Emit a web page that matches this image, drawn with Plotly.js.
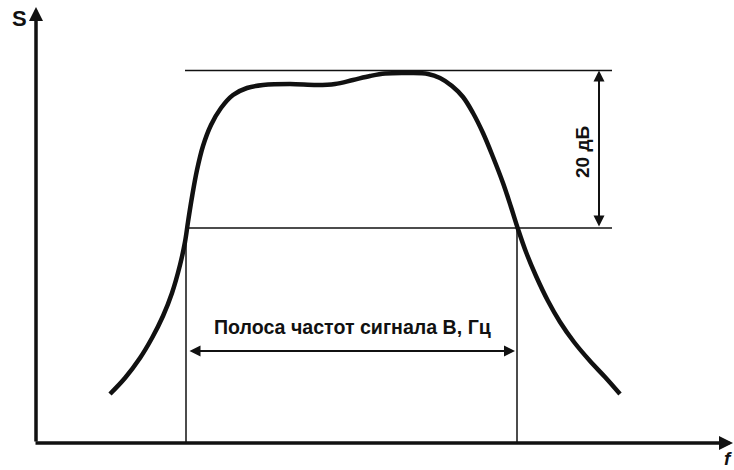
<!DOCTYPE html>
<html>
<head>
<meta charset="utf-8">
<script src="https://cdn.plot.ly/plotly-3.0.1.min.js"></script>
<style>html,body{margin:0;padding:0;background:#fff;}#chart{width:734px;height:470px;}</style>
</head>
<body>
<div id="chart"></div>
<script>
// Spectrum curve S(f), arbitrary units (f along horizontal axis, S vertical)
const curveF = [74,89,104,116,127,136,144,149,152,156,161,167,175,185,197,211,227,254,281,299,317,334,349,374,392,404,416,427,437,447,457,467,475,482,490,500,512,524,538,554,569,584];
const curveS = [49,65,85,105,127,150,178,201,221,246,273,297,318,335,348,355,358,359,358,359,363,367,369.5,370,369,365,357,346,330,310,286,260,236,214,191,167,142,121,101,82,66,49];

// Reference levels and band edges
const levelTop = 372.5;
const levelBand = 215;
const levelLineF = [149, 576];
const bandEdgesF = [150, 481];
const bandArrowS = 92;
const bandArrowF = [152, 479];
const dbArrowF = 563;

// Text labels
const bandLabel = 'Полоса частот сигнала B, Гц';
const dbLabel = '20 дБ';
const yAxisLabel = 'S';
const xAxisLabel = 'f';

// Axes extents
const axisYTop = 436;
const axisXEnd = 697;

const ink = '#111111';
const traces = [];

traces.push({x: curveF, y: curveS, mode: 'lines', line: {color: ink, width: 4.5, shape: 'spline', smoothing: 1}, hoverinfo: 'skip'});
// horizontal level lines
[levelTop, levelBand].forEach(s => {
  traces.push({x: levelLineF, y: [s, s], mode: 'lines', line: {color: ink, width: 1.5}, hoverinfo: 'skip'});
});
// vertical band edges
bandEdgesF.forEach(f => {
  traces.push({x: [f, f], y: [levelBand, 0], mode: 'lines', line: {color: ink, width: 1.5}, hoverinfo: 'skip'});
});

const annotations = [
  // y axis with arrow
  {x: 0, y: axisYTop, ax: 0, ay: 0, xref: 'x', yref: 'y', axref: 'x', ayref: 'y', text: '', showarrow: true, arrowhead: 2, arrowsize: 0.8, arrowwidth: 3.5, arrowcolor: ink, standoff: 0, startstandoff: 0},
  // x axis with arrow
  {x: axisXEnd, y: 0, ax: -2, ay: 0, xref: 'x', yref: 'y', axref: 'x', ayref: 'y', text: '', showarrow: true, arrowhead: 2, arrowsize: 0.8, arrowwidth: 3.5, arrowcolor: ink, standoff: 0, startstandoff: 0},
  // band width double arrow
  {x: bandArrowF[1], y: bandArrowS, ax: bandArrowF[0], ay: bandArrowS, xref: 'x', yref: 'y', axref: 'x', ayref: 'y', text: '', showarrow: true, arrowhead: 2, arrowside: 'end+start', arrowsize: 1.1, arrowwidth: 2, arrowcolor: ink, standoff: 0, startstandoff: 0},
  // 20 dB double arrow
  {x: dbArrowF, y: levelTop, ax: dbArrowF, ay: levelBand, xref: 'x', yref: 'y', axref: 'x', ayref: 'y', text: '', showarrow: true, arrowhead: 2, arrowside: 'end+start', arrowsize: 1.1, arrowwidth: 2, arrowcolor: ink, standoff: 0, startstandoff: 0},
  {x: 316, y: 116, xref: 'x', yref: 'y', text: '<b>' + bandLabel + '</b>', showarrow: false, font: {family: 'Liberation Sans, Arial, sans-serif', size: 19.6, color: ink}},
  {x: 546, y: 291, xref: 'x', yref: 'y', text: '<b>' + dbLabel + '</b>', showarrow: false, textangle: -90, font: {family: 'Liberation Sans, Arial, sans-serif', size: 19, color: ink}},
  {x: -17, y: 425, xref: 'x', yref: 'y', text: '<b>' + yAxisLabel + '</b>', showarrow: false, font: {family: 'Liberation Sans, Arial, sans-serif', size: 22, color: ink}},
  {x: 692, y: -15, xref: 'x', yref: 'y', text: '<b><i>' + xAxisLabel + '</i></b>', showarrow: false, font: {family: 'Liberation Sans, Arial, sans-serif', size: 19, color: ink}}
];

const layout = {
  width: 734, height: 470,
  margin: {l: 0, r: 0, t: 0, b: 0, pad: 0},
  paper_bgcolor: '#ffffff', plot_bgcolor: '#ffffff',
  showlegend: false,
  xaxis: {range: [-36, 698], visible: false, fixedrange: true},
  yaxis: {range: [-27, 443], visible: false, fixedrange: true},
  annotations: annotations
};

Plotly.newPlot('chart', traces, layout, {displayModeBar: false, staticPlot: true});
</script>
</body>
</html>
